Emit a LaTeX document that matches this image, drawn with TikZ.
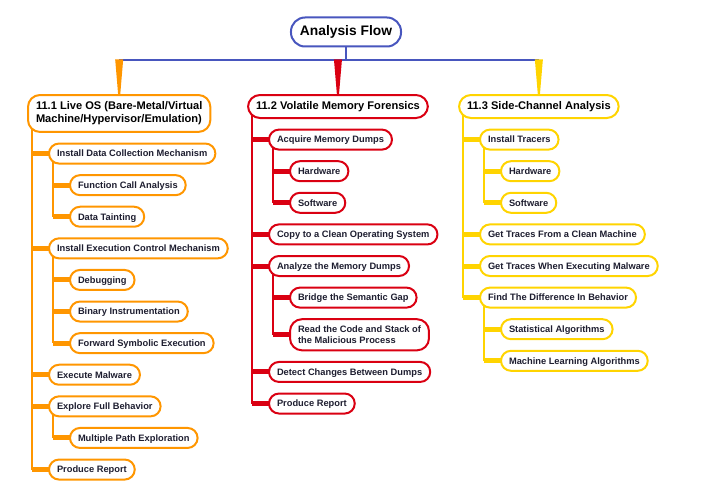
\documentclass[tikz,border=0pt]{standalone}
\usepackage{fontspec}
\setmainfont{Liberation Sans}
\usetikzlibrary{positioning, calc, backgrounds}

\definecolor{flowblue}{RGB}{72,86,190}
\definecolor{liveorange}{RGB}{255,150,0}
\definecolor{memred}{RGB}{218,0,18}
\definecolor{sideyellow}{RGB}{255,212,0}
\definecolor{inkdark}{RGB}{30,30,48}

\newcommand{\flowgap}{9.6pt}

% trunk down from the parent, then a thick stub into the child
\newcommand{\branch}[3]{%
  \path ($(#2.west)+(5pt,0)$) coordinate (trunktop);
  \draw[#1, line width=2pt] (trunktop) -- (trunktop |- #3.west);
  \draw[#1, line width=5pt] (trunktop |- #3.west) -- ($(#3.west)+(3pt,0)$);
}

\begin{document}
\begin{tikzpicture}[
    x=1pt, y=1pt,
    rootbox/.style={draw=flowblue, fill=white, line width=2pt, rounded corners=14pt, text=black,
        font=\bfseries\fontsize{13.8}{16}\selectfont, inner xsep=9pt, minimum height=29pt},
    secbox/.style={draw=#1, fill=white, line width=2pt, rounded corners=12pt, align=left, text=black,
        font=\bfseries\fontsize{11.1}{13}\selectfont, inner xsep=8pt, inner ysep=3pt, minimum height=23pt},
    task/.style={draw=#1, fill=white, line width=2pt, rounded corners=10pt, text=inkdark,
        font=\bfseries\fontsize{9.3}{11.5}\selectfont, inner xsep=8pt, inner ysep=3pt, minimum height=20pt,
        text height=7.5pt, text depth=0.8pt},
    twoline/.style={align=left, text height={}, text depth={}, inner ysep=6.4pt, rounded corners=12pt},
    under/.style={below=\flowgap of #1.south west, anchor=north west},
    deeper/.style={xshift=21pt},
    shallower/.style={xshift=-21pt}
]
\useasboundingbox (0,0) rectangle (707,-495);

\node (root) [rootbox] at (346,-32) {Analysis Flow};

% 11.1
\node (sec1) [secbox=liveorange, inner ysep=6.8pt, anchor=north west] at (27,-94) {11.1 Live OS (Bare-Metal/Virtual\\Machine/Hypervisor/Emulation)};
\node (collect) [task=liveorange, under=sec1, deeper] {Install Data Collection Mechanism};
\node (callan) [task=liveorange, under=collect, deeper] {Function Call Analysis};
\node (taint) [task=liveorange, under=callan] {Data Tainting};
\node (control) [task=liveorange, under=taint, shallower] {Install Execution Control Mechanism};
\node (debug) [task=liveorange, under=control, deeper] {Debugging};
\node (instr) [task=liveorange, under=debug] {Binary Instrumentation};
\node (symex) [task=liveorange, under=instr] {Forward Symbolic Execution};
\node (execmal) [task=liveorange, under=symex, shallower] {Execute Malware};
\node (explore) [task=liveorange, under=execmal] {Explore Full Behavior};
\node (multipath) [task=liveorange, under=explore, deeper] {Multiple Path Exploration};
\node (report1) [task=liveorange, under=multipath, shallower] {Produce Report};

% 11.2
\node (sec2) [secbox=memred, anchor=north west] at (247,-94) {11.2 Volatile Memory Forensics};
\node (acquire) [task=memred, under=sec2, deeper] {Acquire Memory Dumps};
\node (hw2) [task=memred, under=acquire, deeper] {Hardware};
\node (sw2) [task=memred, under=hw2] {Software};
\node (copyclean) [task=memred, under=sw2, shallower] {Copy to a Clean Operating System};
\node (analyze) [task=memred, under=copyclean] {Analyze the Memory Dumps};
\node (semgap) [task=memred, under=analyze, deeper] {Bridge the Semantic Gap};
\node (readcode) [task=memred, twoline, under=semgap] {Read the Code and Stack of\\the Malicious Process};
\node (detect) [task=memred, under=readcode, shallower] {Detect Changes Between Dumps};
\node (report2) [task=memred, under=detect] {Produce Report};

% 11.3
\node (sec3) [secbox=sideyellow, anchor=north west] at (458,-94) {11.3 Side-Channel Analysis};
\node (tracers) [task=sideyellow, under=sec3, deeper] {Install Tracers};
\node (hw3) [task=sideyellow, under=tracers, deeper] {Hardware};
\node (sw3) [task=sideyellow, under=hw3] {Software};
\node (cleantrace) [task=sideyellow, under=sw3, shallower] {Get Traces From a Clean Machine};
\node (maltrace) [task=sideyellow, under=cleantrace] {Get Traces When Executing Malware};
\node (diff) [task=sideyellow, under=maltrace] {Find The Difference In Behavior};
\node (stats) [task=sideyellow, under=diff, deeper] {Statistical Algorithms};
\node (mlalg) [task=sideyellow, under=stats] {Machine Learning Algorithms};

% root to the three sections
\coordinate (bus) at ($(root.south)+(0,-13pt)$);
\draw[flowblue, line width=2pt] (root.south) -- (root.south |- bus);
\draw[flowblue, line width=2pt] (sec1.north |- bus) -- (sec3.north |- bus);
\fill[liveorange] ($(sec1.north |- bus)+(-4pt,1pt)$) -- ($(sec1.north |- bus)+(4pt,1pt)$) -- ($(sec1.north)+(1pt,-1pt)$) -- ($(sec1.north)+(-1pt,-1pt)$) -- cycle;
\fill[memred] ($(sec2.north |- bus)+(-4pt,1pt)$) -- ($(sec2.north |- bus)+(4pt,1pt)$) -- ($(sec2.north)+(1pt,-1pt)$) -- ($(sec2.north)+(-1pt,-1pt)$) -- cycle;
\fill[sideyellow] ($(sec3.north |- bus)+(-4pt,1pt)$) -- ($(sec3.north |- bus)+(4pt,1pt)$) -- ($(sec3.north)+(1pt,-1pt)$) -- ($(sec3.north)+(-1pt,-1pt)$) -- cycle;

\begin{pgfonlayer}{background}
% 11.1 branches
\branch{liveorange}{sec1}{collect}
\branch{liveorange}{sec1}{control}
\branch{liveorange}{sec1}{execmal}
\branch{liveorange}{sec1}{explore}
\branch{liveorange}{sec1}{report1}
\branch{liveorange}{collect}{callan}
\branch{liveorange}{collect}{taint}
\branch{liveorange}{control}{debug}
\branch{liveorange}{control}{instr}
\branch{liveorange}{control}{symex}
\branch{liveorange}{explore}{multipath}
% 11.2 branches
\branch{memred}{sec2}{acquire}
\branch{memred}{sec2}{copyclean}
\branch{memred}{sec2}{analyze}
\branch{memred}{sec2}{detect}
\branch{memred}{sec2}{report2}
\branch{memred}{acquire}{hw2}
\branch{memred}{acquire}{sw2}
\branch{memred}{analyze}{semgap}
\branch{memred}{analyze}{readcode}
% 11.3 branches
\branch{sideyellow}{sec3}{tracers}
\branch{sideyellow}{sec3}{cleantrace}
\branch{sideyellow}{sec3}{maltrace}
\branch{sideyellow}{sec3}{diff}
\branch{sideyellow}{tracers}{hw3}
\branch{sideyellow}{tracers}{sw3}
\branch{sideyellow}{diff}{stats}
\branch{sideyellow}{diff}{mlalg}
\end{pgfonlayer}

\end{tikzpicture}
\end{document}
